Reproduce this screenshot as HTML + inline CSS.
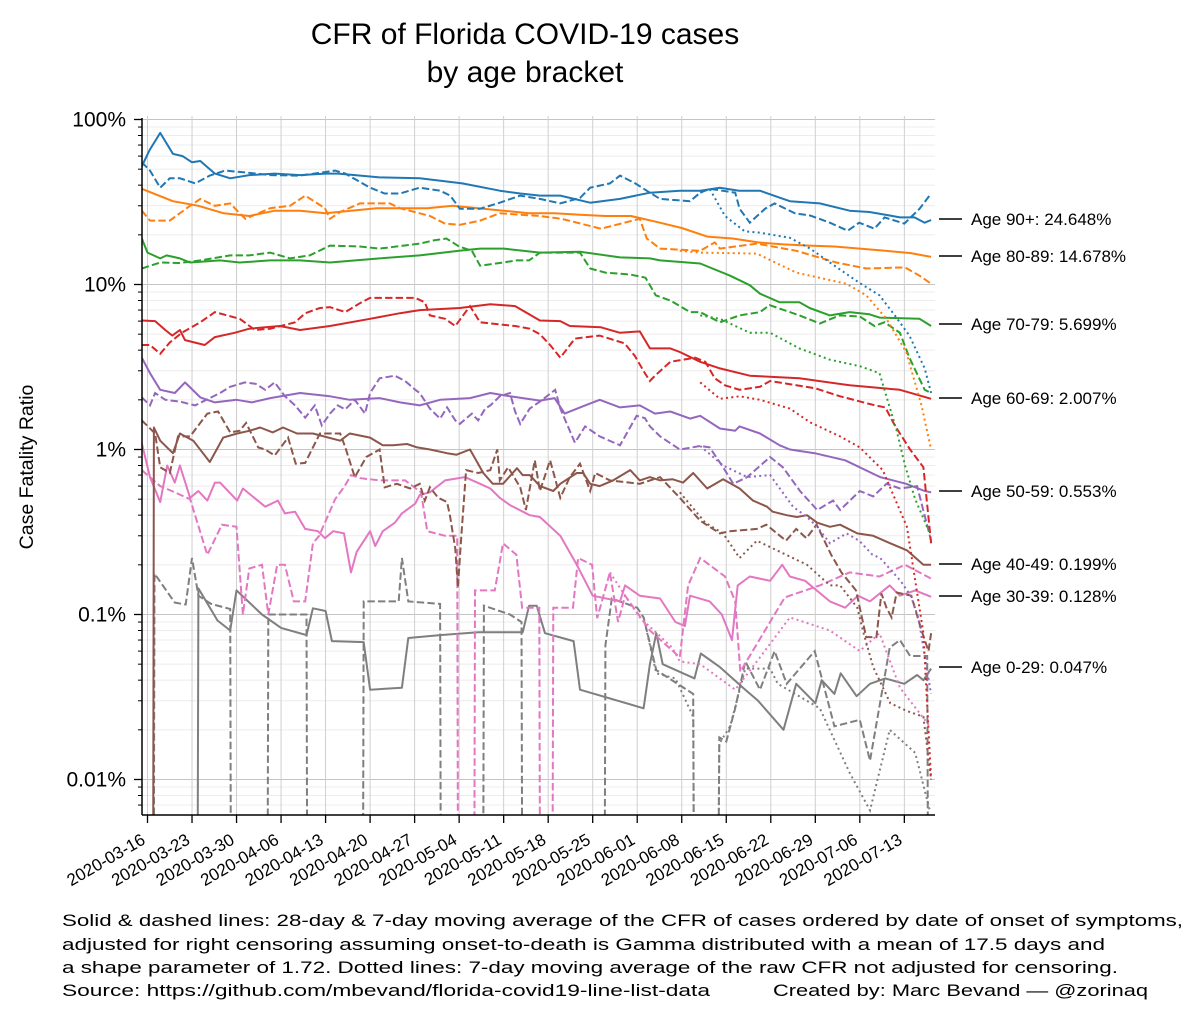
<!DOCTYPE html>
<html><head><meta charset="utf-8"><title>CFR of Florida COVID-19 cases by age bracket</title>
<style>html,body{margin:0;padding:0;background:#fff;width:1200px;height:1017px;overflow:hidden;}svg{display:block;font-family:"Liberation Sans",sans-serif;}</style>
</head><body>
<svg id="chart" width="1200" height="1017" viewBox="0 0 1200 1017" xmlns="http://www.w3.org/2000/svg">
<defs><clipPath id="plotclip"><rect x="142" y="116" width="793" height="699"/></clipPath></defs>
<rect width="1200" height="1017" fill="#fff"/>
<g id="grid"></g>
<g id="series" clip-path="url(#plotclip)"></g>
<g id="axes"></g>
<text x="525" y="44" font-size="30" text-anchor="middle">CFR of Florida COVID-19 cases</text>
<text x="525" y="82" font-size="30" text-anchor="middle">by age bracket</text>
<text transform="translate(33,467) rotate(-90)" font-size="19.5" text-anchor="middle">Case Fatality Ratio</text>
<g font-size="16.5">
<text x="62" y="926" textLength="1121" lengthAdjust="spacingAndGlyphs">Solid &amp; dashed lines: 28-day &amp; 7-day moving average of the CFR of cases ordered by date of onset of symptoms,</text>
<text x="62" y="950" textLength="1043" lengthAdjust="spacingAndGlyphs">adjusted for right censoring assuming onset-to-death is Gamma distributed with a mean of 17.5 days and</text>
<text x="62" y="973" textLength="1056" lengthAdjust="spacingAndGlyphs">a shape parameter of 1.72. Dotted lines: 7-day moving average of the raw CFR not adjusted for censoring.</text>
<text x="62" y="996" textLength="648" lengthAdjust="spacingAndGlyphs">Source: https://github.com/mbevand/florida-covid19-line-list-data</text>
<text x="773" y="996" textLength="375" lengthAdjust="spacingAndGlyphs">Created by: Marc Bevand — @zorinaq</text>
</g>
</svg>
<script>
// ---- data (values in %, days since 2020-03-16); 0.004 = below axis (zero) ----
const xTickLabels=["2020-03-16","2020-03-23","2020-03-30","2020-04-06","2020-04-13","2020-04-20","2020-04-27","2020-05-04","2020-05-11","2020-05-18","2020-05-25","2020-06-01","2020-06-08","2020-06-15","2020-06-22","2020-06-29","2020-07-06","2020-07-13"];
const yTickValues=[100,10,1,0.1,0.01];
const yTickLabels=["100%","10%","1%","0.1%","0.01%"];
const ageLabels=["Age 90+: 24.648%","Age 80-89: 14.678%","Age 70-79: 5.699%","Age 60-69: 2.007%","Age 50-59: 0.553%","Age 40-49: 0.199%","Age 30-39: 0.128%","Age 0-29: 0.047%"];
const finalValues=[24.648,14.678,5.699,2.007,0.553,0.199,0.128,0.047];

const b90SolidDays=[-0.9,0.3,2,4,5.5,7,8.3,10.6,13,16,20,24,28,30,36.5,42.8,49.5,55.4,58.6,61.7,64.9,69.6,74.3,79,83.7,86.9,90,93,96.3,99.4,101,105.7,110.4,113.5,116.7,118.3,120.6,122.2,123.2];
const b90SolidVals=[52,65,83,62,60,55,56,47,44,46,47,46,47,47,44.6,44,41,37,35.6,34.6,34.6,31.3,33,36,37,37,38.6,37,37,33.6,32,31,28,27.5,26.2,25.5,25.5,23.7,24.6];
const b90DashDays=[-0.9,0.4,2,3.5,5.1,7.5,9.8,12.2,15.3,19.3,24,29.5,31.1,35,37.3,39.7,42.8,46,47.6,49.1,52.3,55.4,58.6,61.7,64.9,68,69.6,72.7,74.3,76.7,79,80.6,85.3,86.9,88.4,92.4,93.1,94.7,97.1,98.6,101.8,104.2,107.3,110.1,111.9,114.3,115.9,119,121.4,123.2];
const b90DashVals=[55,49,38.6,44,44,41,45.7,49,47.8,46,45.7,49,47,38.6,35.6,35.6,38.6,37,34.6,28.8,28.8,31.3,34.6,33,31,33.5,38.6,41,45.7,41,36,33,32,36,38,36,28.8,23.7,28.8,31,27,26.2,23.7,21.2,23.7,21.8,25.5,23.4,28.8,35.6];
const b90DotDays=[86.9,88.4,90.8,93.9,96.3,101,104.2,107.3,112,115.1,117.5,119.8,122.2,123.2];
const b90DotVals=[36,38,26,21,20.6,19.2,16.5,13.6,10.2,8.6,6.5,4.9,3.1,2.2];

const b80SolidDays=[-0.9,4,8,12,16,20,24,28,32,36,40,44,48,52,56,60,64,68,72,76,80,84,88,92,96,100,104,108,112,116,120,123.2];
const b80SolidVals=[38,32,30,27,26,28,28,27,28,29,29,29,30,29,28,27,27,26.5,26,26,24,22,19.5,19,18,17.5,17.2,17,16.5,16,15.5,14.7];
const b80DashDays=[-0.9,0.4,3.5,6.7,8.3,10.6,13,14.5,15.4,19.3,22.4,24.8,27.9,28.7,30.3,33.4,38.1,39.7,44.4,46.8,49.1,52.3,55.4,61.7,65.1,71.3,77.4,78.5,80.6,86.9,89.2,90,95.8,102,108.3,113,119.1,121.4,123.2];
const b80DashVals=[28,24.4,24.4,30,33,30,31,27,25,29,30,34.6,29,25,27.5,31,31,29,26,23.4,23,24.4,27,26,25,21.8,25,19,16.5,16,18,16.5,17.7,16,13.6,12.5,12.7,11.3,10.1];
const b80DotDays=[83.7,86.9,95.8,102,109.9,113,116.2,119.3,121.7,123.2];
const b80DotVals=[16,15.6,15.4,11.8,10.1,8.6,6.2,3.9,1.85,1.0];

const b70SolidDays=[-0.9,0,2,3,5.1,6.7,11.4,14.5,19.3,24,28.7,36.5,42.8,49,52.3,56,61.7,68,74.3,79,80.6,86.9,91.6,94.7,96.3,99.4,102.5,104.1,107.3,110.4,113.5,115.1,121.4,123.2];
const b70SolidVals=[19,15.6,14.4,15,14.4,13.6,14,13.6,14,14,13.6,14.4,15,16,16.5,16.5,15.6,15.8,14.6,14.4,14,13.4,11.3,9.9,8.8,7.8,7.8,7.2,6.5,6.8,6.6,6.3,6.2,5.6];
const b70DashDays=[-0.9,2,5,8.3,13,16,19.3,22.4,25.5,28.7,33.4,36.5,42.8,45,47,49,51,52.3,55.4,58,60,61.7,68,69.6,72,75.9,78.3,79.9,82.2,85.3,86.9,90,93.1,96.3,97.8,102.5,105.7,108.8,112,114.3,115.9,118.3,119.8,122.2,123.2];
const b70DashVals=[12.5,13.6,13.5,14,15,15,15.6,14.4,15,17.2,17,16.5,17.7,18.5,19,17,16,13,13.5,14,14,15.6,15.6,12.5,11.8,11.5,11,8.6,8,6.8,6.8,5.9,6.5,6.8,7.5,6.5,5.8,6.5,6.4,5.6,5.9,5.1,3.6,2.3,2.2];
const b70DotDays=[86.9,90,94.7,97.9,102.5,107.3,112,115.1,117.8,119.1,120.7,123];
const b70DotVals=[6.5,6.2,5.1,5.1,4.1,3.5,3.2,2.9,1.3,0.8,0.5,0.31];

const b60SolidDays=[-0.9,1.2,2.8,3.9,5.1,5.9,9,10.6,13.7,16,20.8,24,28.7,35,39.7,42.8,49.1,53.9,57.8,61.7,64.9,66.4,71.3,74.3,77.4,79,82.2,83.7,86.9,90,94.7,102.5,110.4,118.3,123.2];
const b60SolidVals=[6.05,6.0,5.3,4.9,5.3,4.6,4.3,4.8,5.1,5.4,5.6,5.3,5.6,6.2,6.7,7,7.2,7.6,7.4,6.05,6.0,5.6,5.5,5.1,5.2,4.1,4.1,3.9,3.4,3.1,2.8,2.7,2.45,2.3,2.03];
const b60DashDays=[-0.9,0.4,2,3.5,5.4,8.3,10.6,14.5,16.9,19.3,23.2,24.8,27.1,28.7,31.1,33.4,35,42.1,43.6,44.4,46.8,48.4,50.7,52.3,57.8,60.1,61.7,63.3,64.9,67.2,71.1,75,76.6,78.2,79,79.8,82.2,86.1,87.7,89.2,90.8,93.1,96.3,97.9,105,108.9,114.4,116,117.5,119.9,122,123.2];
const b60DashVals=[4.3,4.3,3.8,4.45,5.1,5.9,6.8,6.2,5.3,5.4,5.9,6.7,7.2,7.3,6.8,7.7,8.3,8.3,7.8,6.5,6.2,5.6,7.4,5.9,5.6,5.4,5.0,4.3,3.6,4.7,4.9,4.4,3.7,2.9,2.6,2.8,3.4,3.6,3.4,2.7,2.45,2.3,2.4,2.6,2.35,2.1,1.85,1.8,1.4,1.0,0.78,0.27];
const b60DotDays=[86.9,90,93.1,96.3,101,104.2,108.9,112,115.6,119.4,122,123.2];
const b60DotVals=[2.55,2.03,2.1,2.0,1.77,1.46,1.2,1.03,0.75,0.34,0.077,0.01];

const b50SolidDays=[-0.9,0.4,2,4.3,5.9,8.3,10.6,14,16.4,19.3,24,28.7,31.8,36.5,39.7,42.8,46,50.7,53.9,57,61.7,64,65.6,68.8,71.1,74.3,77.4,79.8,82.2,85.3,86.9,90,92.4,93.1,96.3,99.4,101,104.9,109.7,115.2,119.3,122.2,123.2];
const b50SolidVals=[3.6,2.9,2.3,2.2,2.55,2.07,1.93,2.0,1.93,2.05,2.2,2.1,2.0,2.05,1.93,1.85,2.0,2.05,2.2,2.1,1.98,2.05,1.65,1.85,2.0,1.8,1.85,1.65,1.7,1.54,1.6,1.34,1.3,1.38,1.25,1.06,1.0,0.95,0.86,0.68,0.62,0.56,0.55];
const b50DashDays=[-0.9,0.4,1.2,2.8,5.1,7.5,9.8,11.4,13,15.3,17,18.5,20,21.6,23.2,24.8,26.3,27.4,28.7,29.9,31.1,32.6,34.2,35,36.5,38.9,40.5,42.1,42.8,44.4,46,47.1,48.4,49.1,51,52,53.1,53.9,55.4,57,57.8,58.6,60.1,61.7,64.1,64.9,67.2,68.8,71.1,74.3,76.9,78.2,79,80.6,83.7,86.9,88.4,90.5,92.1,94.3,97.9,99.9,102.6,105.3,107.8,108.9,112,114.1,116.2,118.3,121,123.2];
const b50DashVals=[2.07,1.85,2.2,2.0,1.95,1.85,2.05,2.2,2.4,2.55,2.5,2.3,2.55,2.1,1.85,1.56,1.85,1.4,1.65,1.85,1.75,2.0,1.65,2.2,2.7,2.8,2.6,2.3,2.2,1.77,1.54,1.8,1.5,1.43,1.65,1.5,1.77,1.85,2.1,2.2,1.7,1.43,1.77,1.95,2.3,1.77,1.1,1.38,1.2,1.06,1.6,1.55,1.38,1.2,1.0,1.05,1.03,0.78,0.62,0.68,0.9,0.78,0.56,0.43,0.49,0.43,0.56,0.52,0.62,0.58,0.6,0.28];
const b50DotDays=[86.9,90.5,94.3,97.9,101.5,103.7,105.3,107.3,109.9,111.9,114,115.2,118.4,120,121.2,123.2];
const b50DotVals=[1.05,0.8,0.68,0.7,0.45,0.39,0.34,0.27,0.31,0.28,0.23,0.22,0.16,0.13,0.096,0.033];

const b40SolidDays=[-0.9,0.9,1,2,4,5.1,7.2,9.8,11.9,14.1,16.1,17.7,19.7,21.3,23.5,26,30.3,31.8,35,37,38.6,40.8,42.4,44.4,47.1,48.6,50.7,52.8,54.3,55.9,58.1,59,60.1,61.7,63.8,64.9,67.5,68.5,69.6,71.1,73.2,75.9,77.4,79,80.6,82.6,84.2,85.8,88,90.5,93.1,95.2,97.4,98.3,100.5,102.1,103.7,105.3,107.3,108.9,111.6,114.1,116.8,119.4,122,123.2];
const b40SolidVals=[0.004,0.004,1.36,1.13,0.95,1.25,1.13,0.84,1.18,1.25,1.3,1.36,1.27,1.36,1.25,1.25,1.13,1.25,1.18,1.06,1.06,1.08,1.03,1.0,0.95,0.93,1.0,0.72,0.62,0.62,0.77,0.7,0.7,0.6,0.56,0.62,0.72,0.72,0.62,0.6,0.65,0.75,0.65,0.68,0.65,0.66,0.63,0.72,0.58,0.66,0.58,0.49,0.45,0.42,0.4,0.39,0.4,0.36,0.34,0.35,0.31,0.3,0.27,0.245,0.2,0.2];
const b40DashDays=[-0.9,1.2,2,3.5,4.8,6.7,9.4,11.1,13,14.5,15.5,17.4,18.5,20,22.1,23.3,24.8,27.1,30.3,31.1,32.6,34.4,36.5,37.3,39.2,41.3,42.8,43.6,44.4,45.7,47.1,47.6,48.4,48.8,49.3,50.1,52,53.9,55,55.4,56.7,58.6,59.5,60.9,61.7,63.3,64.9,66.4,68,69.6,70.4,72.7,77.4,80.6,83.7,86.9,90,91.6,95.8,97.3,100.4,102,103.6,105.2,107.5,109.1,111.4,113,114.6,115.4,116.2,117,117.8,120.1,121.7,122.8,123.2];
const b40DashVals=[1.5,1.25,0.78,0.72,1.2,1.2,1.65,1.7,1.27,1.3,1.45,1.03,1.0,0.92,1.18,0.82,0.83,1.25,1.25,1.03,0.68,0.9,1.0,0.59,0.62,0.58,0.62,0.49,0.59,0.51,0.48,0.39,0.25,0.146,0.28,0.75,0.72,0.75,1.0,0.65,0.78,0.59,0.43,0.86,0.56,0.86,0.51,0.68,0.82,0.56,0.72,0.65,0.62,0.68,0.51,0.37,0.31,0.32,0.33,0.35,0.28,0.33,0.29,0.35,0.23,0.18,0.14,0.073,0.073,0.134,0.11,0.096,0.136,0.13,0.08,0.06,0.077];
const b40DotDays=[83.7,87.7,90.5,93.1,95.8,103.7,107.3,108.9,111.6,112.6,114.1,116.8,119.4,122,123.2];
const b40DotVals=[0.55,0.36,0.31,0.22,0.28,0.2,0.15,0.15,0.11,0.077,0.048,0.029,0.026,0.024,0.01];

const b30SolidDays=[-0.9,0.4,2,3.1,4.3,5.1,6.7,8,9.4,10.6,11.4,14.1,15,18.5,20.5,21.6,23.2,24.8,26.8,27.9,29.2,30.9,32,32.9,35,35.8,37,38.9,40,42.1,42.8,44.4,46.8,49.9,52.3,53.9,55.4,57,60.1,61.7,64.9,67.5,70,74.3,75.1,77.4,80.6,83,84.5,85.3,88.4,90.3,91.9,92.8,94.7,97.9,99.8,101,103.4,107.3,109.7,111.7,113.6,116.7,118.3,120.7,123.2];
const b30SolidVals=[1.09,0.68,0.48,0.8,0.63,0.8,0.51,0.56,0.49,0.63,0.63,0.49,0.58,0.45,0.49,0.41,0.42,0.33,0.32,0.29,0.32,0.31,0.18,0.24,0.32,0.26,0.32,0.36,0.41,0.47,0.53,0.55,0.65,0.68,0.62,0.58,0.51,0.46,0.4,0.39,0.3,0.2,0.13,0.12,0.15,0.13,0.125,0.09,0.085,0.13,0.12,0.1,0.07,0.15,0.17,0.16,0.2,0.17,0.16,0.12,0.11,0.13,0.12,0.15,0.13,0.14,0.128];
const b30DashDays=[-0.9,2,4.3,6.7,9.4,11.7,14,15,16,18,19,20.4,21.6,23,24.8,26,27,29.5,31,32,33.5,36.5,39,40.5,43,44,46.8,48.7,48.8,51.4,51.5,54.6,55.9,58,58.9,61.6,61.7,63.7,63.8,66.9,67.7,69.9,70.7,72.7,74,75.1,79,83.7,85,86.9,90.8,92.4,93.2,100.2,105.7,110.4,115.1,119.1,123.2];
const b30DashVals=[0.75,0.6,0.55,0.5,0.23,0.35,0.34,0.1,0.19,0.2,0.1,0.2,0.2,0.12,0.12,0.27,0.3,0.5,0.6,0.7,0.67,0.65,0.65,0.65,0.55,0.32,0.3,0.3,0.004,0.004,0.14,0.14,0.27,0.23,0.11,0.11,0.004,0.004,0.11,0.11,0.22,0.2,0.095,0.18,0.09,0.13,0.08,0.055,0.15,0.22,0.17,0.12,0.045,0.127,0.15,0.18,0.17,0.2,0.165];
const b30DotDays=[72.7,75.1,77.4,82.5,83.7,86.9,92.4,96.3,101,107.3,112,115.1,118.3,123];
const b30DotVals=[0.18,0.13,0.096,0.063,0.052,0.05,0.035,0.055,0.096,0.08,0.06,0.077,0.036,0.021];

const b0SolidDays=[-0.9,7.9,8,11,13,14,18,21,25,26,28,29,34,35,40,41,46,52,57,59,60,61.2,62.5,67,68,78,79,80,81,86,87,90,94,96,100,102,105,106,108,109,111.5,113.6,116,119,121,122,123.2];
const b0SolidVals=[0.004,0.004,0.144,0.092,0.08,0.14,0.1,0.083,0.075,0.109,0.105,0.069,0.068,0.035,0.036,0.072,0.075,0.078,0.078,0.078,0.113,0.113,0.077,0.069,0.035,0.027,0.05,0.077,0.05,0.041,0.058,0.048,0.035,0.03,0.02,0.038,0.029,0.04,0.033,0.044,0.032,0.038,0.041,0.038,0.043,0.04,0.047];
const b0DashDays=[-0.9,1,1.1,4.3,6,7,8,10,13,13.1,18.9,19,25,25.1,33.9,34,39.5,40,41,46,46.1,52.8,52.9,57,58.8,58.9,71.9,72,73,77,78,80,85.8,85.9,89.8,89.9,91,92.4,94,96.3,98.6,100.5,104.9,108,112,113.6,116.7,118.3,119.9,122.6,122.7,123.2];
const b0DashVals=[0.004,0.004,0.177,0.118,0.115,0.22,0.13,0.116,0.108,0.004,0.004,0.1,0.1,0.004,0.004,0.12,0.12,0.22,0.12,0.116,0.004,0.004,0.113,0.1,0.09,0.004,0.004,0.065,0.125,0.11,0.096,0.046,0.033,0.004,0.004,0.018,0.017,0.027,0.052,0.035,0.06,0.038,0.06,0.021,0.023,0.013,0.063,0.07,0.056,0.056,0.004,0.004];
const b0DotDays=[78,80,83,85.8,85.9,89.8,89.9,91.6,94,97.9,99.1,105.7,110.4,113.6,116.7,120.7,123];
const b0DotVals=[0.096,0.044,0.041,0.024,0.004,0.004,0.0165,0.021,0.047,0.047,0.038,0.027,0.011,0.0065,0.02,0.0145,0.0065];

// ---- axis functions ----
const X0=147.5, PXDAY=6.36;
function xScale(d){return X0+PXDAY*d;}
function yScale(v){return 119.5+165*(2-Math.log10(v));}
const NS="http://www.w3.org/2000/svg";
function mk(tag,attrs,parent){const e=document.createElementNS(NS,tag);for(const k in attrs)e.setAttribute(k,attrs[k]);parent.appendChild(e);return e;}

const grid=document.getElementById('grid');
const axes=document.getElementById('axes');
const seriesG=document.getElementById('series');
const PL=142,PR=935,PT=116,PB=815;

for(let e=-3;e<2;e++){for(let m=2;m<=9;m++){const v=m*Math.pow(10,e);const y=yScale(v);if(y<PT||y>PB)continue;
 const l=mk('line',{x1:PL,x2:PR,y1:y,y2:y,stroke:'#ececec','stroke-width':1},grid);
 
 
 const t=mk('line',{x1:PL-4,x2:PL,y1:y,y2:y,stroke:'#000','stroke-width':1},axes);
 
 
}}
yTickValues.forEach((v,i)=>{const y=yScale(v);
 const l=mk('line',{x1:PL,x2:PR,y1:y,y2:y,stroke:'#c4c4c4','stroke-width':1},grid);
 
 
 const t=mk('line',{x1:PL-8,x2:PL,y1:y,y2:y,stroke:'#000','stroke-width':1.3},axes);
 
 
 const tx=mk('text',{x:PL-16,y:y+7,'font-size':21,'text-anchor':'end'},axes);
 tx.textContent=yTickLabels[i];
 
 
});
xTickLabels.forEach((lab,i)=>{const x=xScale(i*7);
 const l=mk('line',{x1:x,x2:x,y1:PT,y2:PB,stroke:'#cfcfcf','stroke-width':1},grid);
 
 
 const t=mk('line',{x1:x,x2:x,y1:PB,y2:PB+8,stroke:'#000','stroke-width':1.3},axes);
 
 
 const tx=mk('text',{transform:'translate('+(x-1)+','+(PB+28)+') rotate(-30)','font-size':17,'text-anchor':'end'},axes);
 tx.textContent=lab;
 
 
});
const sl=mk('line',{x1:PL,x2:PL,y1:PT+2,y2:PB,stroke:'#000','stroke-width':1.5},axes);


const sb=mk('line',{x1:PL,x2:PR,y1:PB,y2:PB,stroke:'#000','stroke-width':1.5},axes);



const colors=['#1f77b4','#ff7f0e','#2ca02c','#d62728','#9467bd','#8c564b','#e377c2','#7f7f7f'];
const groups=[
 [b90SolidDays,b90SolidVals,b90DashDays,b90DashVals,b90DotDays,b90DotVals,'age-90-plus'],
 [b80SolidDays,b80SolidVals,b80DashDays,b80DashVals,b80DotDays,b80DotVals,'age-80-89'],
 [b70SolidDays,b70SolidVals,b70DashDays,b70DashVals,b70DotDays,b70DotVals,'age-70-79'],
 [b60SolidDays,b60SolidVals,b60DashDays,b60DashVals,b60DotDays,b60DotVals,'age-60-69'],
 [b50SolidDays,b50SolidVals,b50DashDays,b50DashVals,b50DotDays,b50DotVals,'age-50-59'],
 [b40SolidDays,b40SolidVals,b40DashDays,b40DashVals,b40DotDays,b40DotVals,'age-40-49'],
 [b30SolidDays,b30SolidVals,b30DashDays,b30DashVals,b30DotDays,b30DotVals,'age-30-39'],
 [b0SolidDays,b0SolidVals,b0DashDays,b0DashVals,b0DotDays,b0DotVals,'age-0-29']
];
function pathD(days,vals){return days.map((d,i)=>(i?'L':'M')+xScale(d).toFixed(1)+','+yScale(vals[i]).toFixed(1)).join('');}
groups.slice().reverse().forEach((g,ri)=>{const idx=groups.length-1-ri;const c=colors[idx];
 const pd=mk('path',{d:pathD(g[4],g[5]),fill:'none',stroke:c,'stroke-width':2,'stroke-dasharray':'2,3.3'},seriesG);
 
 
 const pa=mk('path',{d:pathD(g[2],g[3]),fill:'none',stroke:c,'stroke-width':2,'stroke-dasharray':'7.4,3.2'},seriesG);
 
 
 const ps=mk('path',{d:pathD(g[0],g[1]),fill:'none',stroke:c,'stroke-width':2,'stroke-linejoin':'round'},seriesG);
 
 
});
const labelY=[219,256,324,398,491,564,596,667];
ageLabels.forEach((lab,i)=>{const y=labelY[i];
 const l=mk('line',{x1:939,x2:962,y1:y,y2:y,stroke:'#000','stroke-width':1.6},axes);
 
 
 const t=mk('text',{x:971,y:y+6,'font-size':17},axes);
 t.textContent=lab;
 
 
});
</script>
</body></html>
